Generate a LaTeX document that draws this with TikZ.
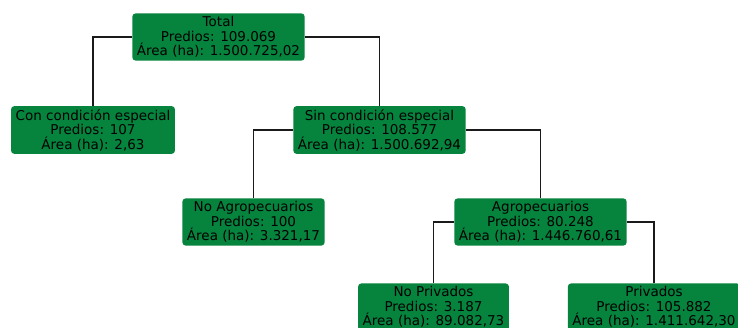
\documentclass[tikz,border=0pt]{standalone}
\usepackage{fontspec}
\setmainfont{DejaVu Sans}
\usepackage{tikz}
\definecolor{predgreen}{RGB}{6,132,62}
\definecolor{predink}{HTML}{1A1A1A}

\tikzset{
  predbox/.style={fill=predgreen, rounded corners=3pt, inner xsep=4.5pt, inner ysep=3pt,
    align=center, font=\fontsize{13.5}{14.5}\selectfont, text=black},
  predlink/.style={draw=predink, line width=1.4pt}
}

\begin{document}
\begin{tikzpicture}[x=1pt, y=1pt]
  \useasboundingbox (0,0) rectangle (738,327);
  % tree of predios
  \node[predbox] (total) at (218.5,290) {Total\\Predios: 109.069\\Área (ha): 1.500.725,02};
  \node[predbox] (con) at (93,197) {Con condición especial\\Predios: 107\\Área (ha): 2,63};
  \node[predbox] (sin) at (379.5,197) {Sin condición especial\\Predios: 108.577\\Área (ha): 1.500.692,94};
  \node[predbox] (noagro) at (253.5,105) {No Agropecuarios\\Predios: 100\\Área (ha): 3.321,17};
  \node[predbox] (agro) at (540.5,105) {Agropecuarios\\Predios: 80.248\\Área (ha): 1.446.760,61};
  \node[predbox] (nopriv) at (433.5,20) {No Privados\\Predios: 3.187\\Área (ha): 89.082,73};
  \node[predbox] (priv) at (654,20) {Privados\\Predios: 105.882\\Área (ha): 1.411.642,30};

  \draw[predlink] (total.west) -| (con.north);
  \draw[predlink] (total.east) -| (sin.north);
  \draw[predlink] (sin.west) -| (noagro.north);
  \draw[predlink] (sin.east) -| (agro.north);
  \draw[predlink] (agro.west) -| (nopriv.north);
  \draw[predlink] (agro.east) -| (priv.north);
\end{tikzpicture}
\end{document}
